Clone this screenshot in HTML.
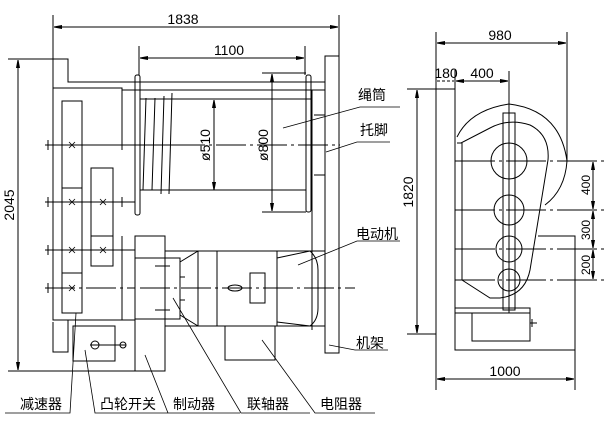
<!DOCTYPE html>
<html><head><meta charset="utf-8"><style>
body{margin:0;background:#fff;width:604px;height:422px;overflow:hidden}
svg{display:block}
text{font-family:"Liberation Sans","Noto Sans CJK SC",sans-serif;fill:#000}
.c{font-size:14px}
.d{font-size:14px}
</style></head><body>
<svg width="604" height="422" viewBox="0 0 604 422" fill="none" stroke="#000" stroke-width="1">
<defs><marker id="a" markerWidth="8" markerHeight="6" refX="8" refY="3" orient="auto-start-reverse"><path d="M0,1.5 L8,3 L0,4.5z" fill="#000"/></marker></defs>
<!-- LEFT VIEW dims -->
<line x1="53" y1="15" x2="53" y2="90"/><line x1="339" y1="15" x2="339" y2="56"/>
<line x1="54" y1="27" x2="338" y2="27" marker-start="url(#a)" marker-end="url(#a)"/>
<text x="183" y="24" class="d" text-anchor="middle" stroke="none">1838</text>
<line x1="139" y1="46" x2="139" y2="75"/><line x1="305" y1="46" x2="305" y2="75"/>
<line x1="140" y1="58" x2="304" y2="58" marker-start="url(#a)" marker-end="url(#a)"/>
<text x="229" y="55" class="d" text-anchor="middle" stroke="none">1100</text>
<line x1="8" y1="59" x2="68" y2="59"/>
<line x1="18" y1="60" x2="18" y2="370" marker-start="url(#a)" marker-end="url(#a)"/>
<text transform="translate(14,205) rotate(-90)" class="d" text-anchor="middle" stroke="none">2045</text>
<path d="M53 59 H68 V82 H325 M53 88 H122 V140 M122 90 H325 M140 99 H312"/>
<rect x="135" y="75" width="5" height="140" rx="2"/>
<rect x="306" y="75" width="5" height="137" rx="2"/>
<line x1="140" y1="190" x2="306" y2="190"/>
<line x1="214" y1="100" x2="214" y2="190" marker-start="url(#a)" marker-end="url(#a)"/>
<line x1="262" y1="73" x2="306" y2="73"/><line x1="262" y1="212" x2="306" y2="212"/>
<line x1="272" y1="74" x2="272" y2="211" marker-start="url(#a)" marker-end="url(#a)"/>
<text transform="translate(210,145) rotate(-90)" class="d" text-anchor="middle" stroke="none">ø510</text>
<text transform="translate(268,145) rotate(-90)" class="d" text-anchor="middle" stroke="none">ø800</text>
<path d="M146 98 L143 190 M155 98 L152 190 M164 96 L161 194 M172 93 L169 194"/>
<rect x="325" y="56" width="14" height="297"/>
<path d="M312 90 V330 M314 115 H325 V175 H314"/>
<line x1="45" y1="145" x2="175" y2="145"/>
<line x1="175" y1="145" x2="340" y2="145" stroke-dasharray="30 4 3 4"/>
<path d="M53 88 V320 H68 V322"/>
<rect x="62" y="101" width="20" height="212"/>
<path d="M62 188 H82 M62 273 H82"/>
<rect x="91" y="168" width="22" height="98"/>
<path d="M91 236 H113"/>
<path d="M45 202 H135 M45 250 H135"/>
<path d="M45 288 H135" stroke-dasharray="30 4 3 4"/>
<path d="M48 140 V150 M48 197 V207 M48 245 V255 M48 283 V293 M122 140 V150 M122 197 V207 M122 245 V255 M122 283 V293"/>
<g stroke-width="0.8">
<path d="M69 142 l6 6 m0 -6 l-6 6 M69 199 l6 6 m0 -6 l-6 6 M100 199 l6 6 m0 -6 l-6 6 M69 247 l6 6 m0 -6 l-6 6 M100 247 l6 6 m0 -6 l-6 6 M69 285 l6 6 m0 -6 l-6 6"/>
</g>
<path d="M53 320 H135 M53 322 V352 H68 V322 M122 236 V320"/>
<rect x="73" y="326" width="42" height="35"/>
<line x1="90" y1="345" x2="126" y2="345"/><circle cx="95" cy="345" r="4"/><circle cx="123" cy="345" r="3"/>
<rect x="135" y="236" width="30" height="135"/>
<rect x="135" y="258" width="45" height="61"/>
<path d="M155 266 H170 M155 310 H170"/>
<line x1="8" y1="371" x2="165" y2="371"/>
<path d="M165 251 H325 M165 326 H325"/>
<path d="M180 262 L198 251 M180 315 L198 326 M198 251 V326 M217 251 V326 M277 251 V326 M180 262 V315 M180 277 H185 M180 300 H185"/>
<path d="M277 258 L310 251 Q318 258 318 270 V308 Q318 320 310 326 L277 322"/>
<rect x="250" y="273" width="15" height="30"/>
<ellipse cx="235" cy="288" rx="7" ry="3"/>
<line x1="140" y1="288" x2="355" y2="288" stroke-dasharray="30 4 3 4"/>
<rect x="225" y="326" width="50" height="34"/>
<g stroke-width="0.8">
<path d="M283 128 L360 107 H400 M326 152 L357 142 H390 M298 265 L357 241 H400 M329 345 L355 350 H388"/>
<path d="M76 313 L70 413 H5 M85 350 L95 413 H170 M145 355 L168 413 H240 M173 298 L241 413 H310 M262 340 L315 413 H375"/>
</g>
<g class="c" stroke="none">
<text x="358" y="100" font-size="14">绳筒</text>
<text x="360" y="135" font-size="14">托脚</text>
<text x="356" y="239" font-size="14">电动机</text>
<text x="356" y="348" font-size="14">机架</text>
<text x="20" y="409" font-size="14">减速器</text>
<text x="100" y="409" font-size="14">凸轮开关</text>
<text x="173" y="409" font-size="14">制动器</text>
<text x="247" y="409" font-size="14">联轴器</text>
<text x="320" y="409" font-size="14">电阻器</text>
</g>
<!-- RIGHT VIEW -->
<line x1="436" y1="32" x2="436" y2="390"/><line x1="567" y1="32" x2="567" y2="161"/>
<line x1="437" y1="43" x2="566" y2="43" marker-start="url(#a)" marker-end="url(#a)"/>
<text x="500" y="40" class="d" text-anchor="middle" stroke="none">980</text>
<line x1="455" y1="70" x2="455" y2="89"/>
<line x1="509" y1="71" x2="509" y2="313"/>
<line x1="437" y1="81" x2="454" y2="81" stroke-dasharray="3 2"/>
<line x1="456" y1="81" x2="508" y2="81" marker-start="url(#a)" marker-end="url(#a)"/>
<text x="446" y="78" class="d" text-anchor="middle" stroke="none">180</text>
<text x="482" y="78" class="d" text-anchor="middle" stroke="none">400</text>
<line x1="407" y1="89" x2="455" y2="89"/><line x1="407" y1="334" x2="436" y2="334"/>
<line x1="417" y1="90" x2="417" y2="333" marker-start="url(#a)" marker-end="url(#a)"/>
<text transform="translate(413,192) rotate(-90)" class="d" text-anchor="middle" stroke="none">1820</text>
<path d="M455 89 V350 H575 V236 H538"/>
<rect x="503" y="113" width="12" height="197"/>
<circle cx="509" cy="161" r="18"/><circle cx="509" cy="210" r="15"/><circle cx="509" cy="249" r="13"/><circle cx="509" cy="280" r="11"/>
<g stroke-dasharray="40 4 3 4"><path d="M455 161 H604 M455 210 H604 M455 249 H604 M455 280 H604"/></g>
<path d="M457 137 Q470 110 509 104 Q560 110 567 161 Q565 190 545 205"/>
<path d="M457 143 H461 L490 128 Q509 118 530 125 Q550 135 548 160 L530 270 Q525 295 500 298 H490 L462 280 V143"/>
<line x1="593" y1="162" x2="593" y2="209" marker-start="url(#a)" marker-end="url(#a)"/>
<line x1="593" y1="211" x2="593" y2="248" marker-start="url(#a)" marker-end="url(#a)"/>
<line x1="593" y1="250" x2="593" y2="279" marker-start="url(#a)" marker-end="url(#a)"/>
<text transform="translate(590,185) rotate(-90)" font-size="12" text-anchor="middle" stroke="none">400</text>
<text transform="translate(590,230) rotate(-90)" font-size="12" text-anchor="middle" stroke="none">300</text>
<text transform="translate(590,265) rotate(-90)" font-size="12" text-anchor="middle" stroke="none">200</text>
<rect x="455" y="308" width="75" height="5"/>
<rect x="472" y="313" width="58" height="28"/>
<path d="M530 323 H537 M532 319 V327"/>
<line x1="575" y1="350" x2="575" y2="390"/>
<line x1="437" y1="379" x2="574" y2="379" marker-start="url(#a)" marker-end="url(#a)"/>
<text x="505" y="376" class="d" text-anchor="middle" stroke="none">1000</text>
</svg>
</body></html>
